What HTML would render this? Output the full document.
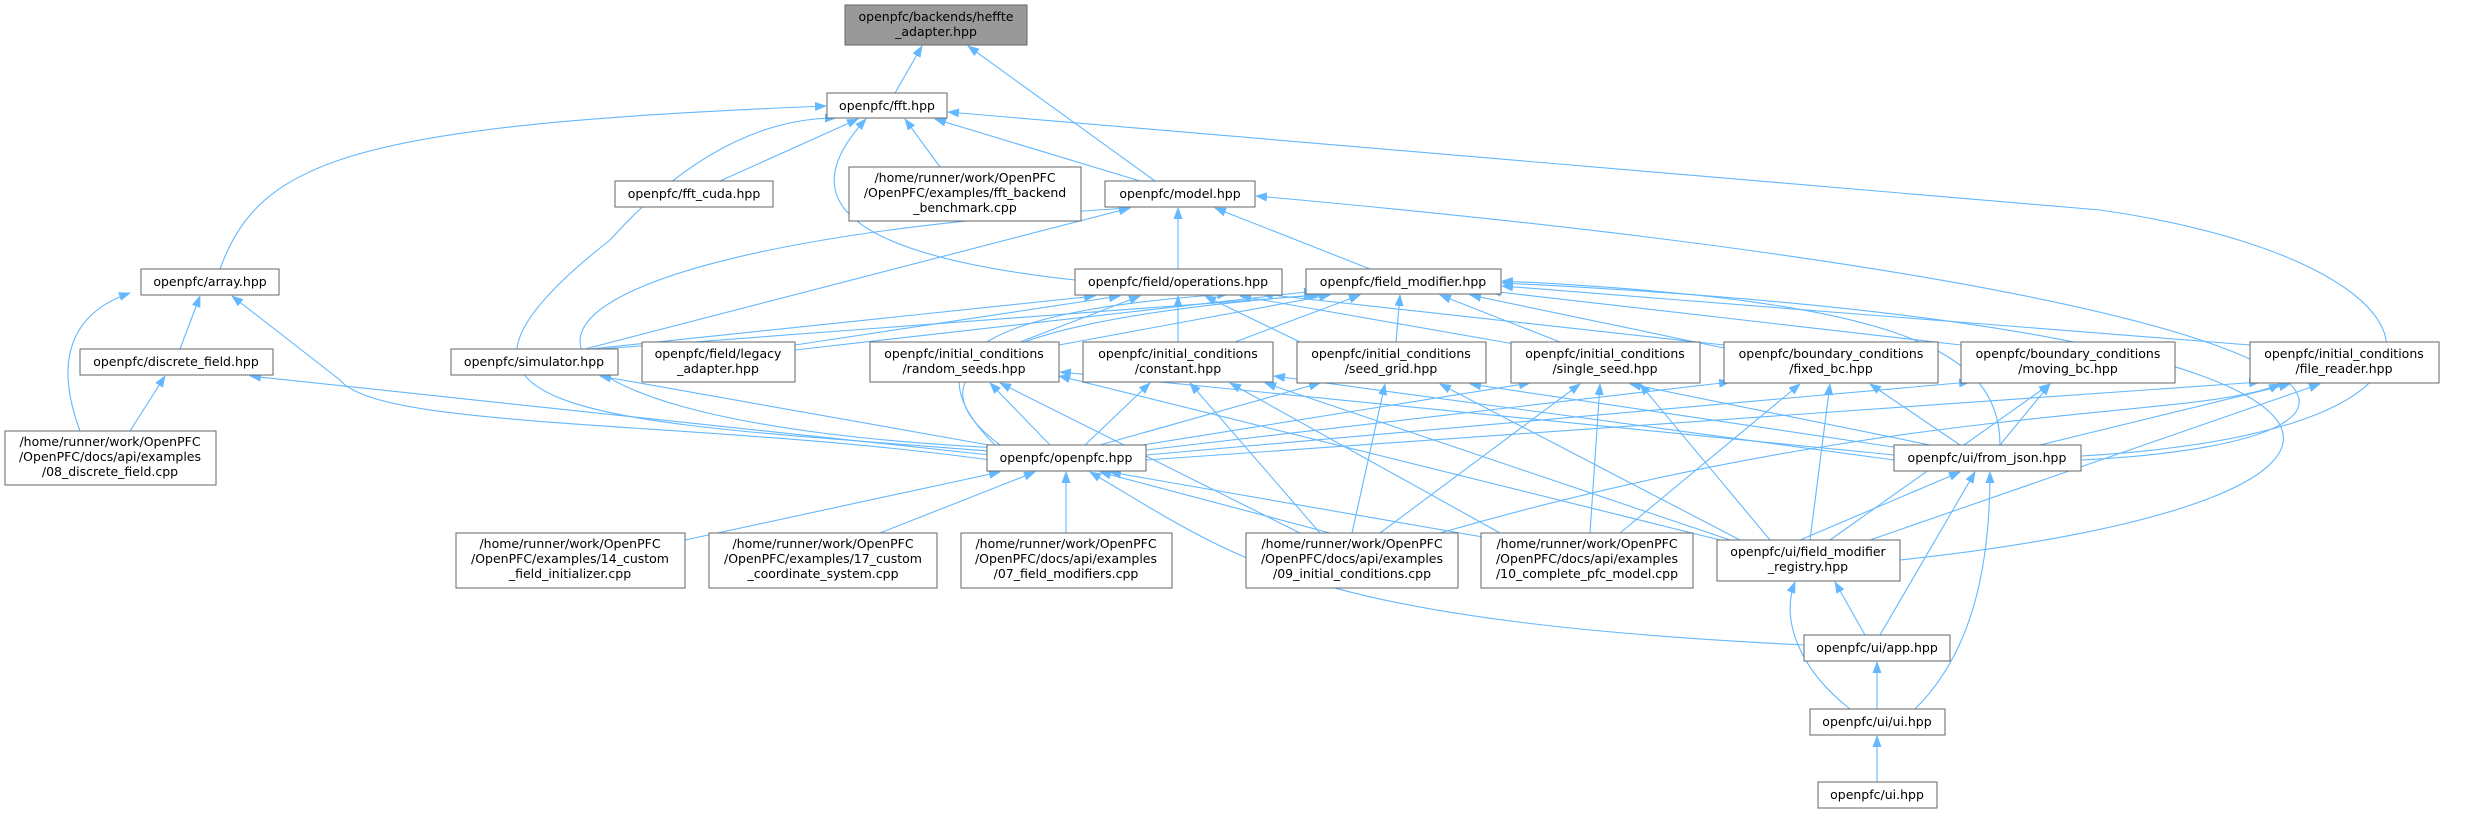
<!DOCTYPE html>
<html><head><meta charset="utf-8"><style>
html,body{margin:0;padding:0;background:#fff;}
svg{display:block;}
text{font-family:"DejaVu Sans","Liberation Sans",sans-serif;font-size:12.5px;fill:#000;}
.b{fill:#fff;stroke:#666;stroke-width:1;}
.g{fill:#999;stroke:#666;stroke-width:1;}
.e{fill:none;stroke:#63b8ff;stroke-width:1.1;marker-end:url(#a);}
</style></head><body>
<svg width="2489" height="813" viewBox="0 0 2489 813" xmlns="http://www.w3.org/2000/svg">
<defs><marker id="a" markerWidth="12" markerHeight="9" refX="11" refY="4.5" orient="auto" markerUnits="userSpaceOnUse"><path d="M0,0 L12,4.5 L0,9 z" fill="#63b8ff"/></marker></defs>
<g>
<path class="e" d="M895,93 L922,46"/>
<path class="e" d="M1155,181 L968,46"/>
<path class="e" d="M220,269 C260,160 350,125 826,106"/>
<path class="e" d="M1000,452 C600,420 380,420 610,240 C700,140 780,118 836,118"/>
<path class="e" d="M720,181 L858,119"/>
<path class="e" d="M1075,280 C800,250 810,180 866,119"/>
<path class="e" d="M940,167 L905,119"/>
<path class="e" d="M1140,181 L935,119"/>
<path class="e" d="M2081,456 C2520,430 2450,260 2100,210 L948,112"/>
<path class="e" d="M1000,448 C420,420 420,250 1130,208"/>
<path class="e" d="M585,349 L1130,208"/>
<path class="e" d="M1178,269 L1178,208"/>
<path class="e" d="M1370,269 L1215,208"/>
<path class="e" d="M2081,460 C2470,440 2420,300 1256,196"/>
<path class="e" d="M180,349 L200,296"/>
<path class="e" d="M80,431 C50,350 80,310 130,293"/>
<path class="e" d="M990,460 C700,420 380,430 340,380 L232,296"/>
<path class="e" d="M130,431 L165,376"/>
<path class="e" d="M990,455 L250,376"/>
<path class="e" d="M590,349 L1095,296"/>
<path class="e" d="M795,345 L1120,296"/>
<path class="e" d="M1020,342 L1140,296"/>
<path class="e" d="M1178,342 L1178,296"/>
<path class="e" d="M1300,342 L1205,296"/>
<path class="e" d="M1520,345 L1240,296"/>
<path class="e" d="M1724,345 L1262,294"/>
<path class="e" d="M995,445 C900,350 1000,310 1228,294"/>
<path class="e" d="M600,349 L1320,295"/>
<path class="e" d="M795,350 L1315,291"/>
<path class="e" d="M1059,345 L1330,295"/>
<path class="e" d="M1235,342 L1360,295"/>
<path class="e" d="M1396,342 L1400,295"/>
<path class="e" d="M1560,342 L1440,295"/>
<path class="e" d="M1724,348 L1470,295"/>
<path class="e" d="M1961,345 L1490,291"/>
<path class="e" d="M2250,345 L1502,286"/>
<path class="e" d="M2000,445 C2000,350 1900,300 1502,281"/>
<path class="e" d="M1900,560 C2460,500 2470,330 1502,283"/>
<path class="e" d="M1000,445 C900,370 1000,320 1315,295"/>
<path class="e" d="M1050,445 L990,383"/>
<path class="e" d="M1085,445 L1150,383"/>
<path class="e" d="M1100,445 L1320,383"/>
<path class="e" d="M1130,447 L1530,383"/>
<path class="e" d="M1146,450 L1730,382"/>
<path class="e" d="M1146,455 L1970,382"/>
<path class="e" d="M1146,460 L2260,382"/>
<path class="e" d="M1000,447 L600,376"/>
<path class="e" d="M1300,533 L1000,383"/>
<path class="e" d="M1320,533 L1190,383"/>
<path class="e" d="M1352,533 L1385,384"/>
<path class="e" d="M1380,533 L1580,384"/>
<path class="e" d="M1440,533 C1900,400 2200,420 2280,384"/>
<path class="e" d="M1500,533 L1230,383"/>
<path class="e" d="M1590,533 L1600,384"/>
<path class="e" d="M1620,533 L1800,384"/>
<path class="e" d="M1720,540 L1059,376"/>
<path class="e" d="M1730,540 L1265,383"/>
<path class="e" d="M1740,540 L1440,384"/>
<path class="e" d="M1770,540 L1640,384"/>
<path class="e" d="M1810,540 L1830,384"/>
<path class="e" d="M1830,540 L2050,384"/>
<path class="e" d="M1870,540 L2320,384"/>
<path class="e" d="M1894,455 L1060,372"/>
<path class="e" d="M1894,460 L1274,376"/>
<path class="e" d="M1900,448 L1470,384"/>
<path class="e" d="M1930,445 L1630,384"/>
<path class="e" d="M1960,445 L1870,384"/>
<path class="e" d="M2000,445 L2050,384"/>
<path class="e" d="M2040,445 L2290,384"/>
<path class="e" d="M685,540 L1000,472"/>
<path class="e" d="M880,533 L1035,472"/>
<path class="e" d="M1066,533 L1066,472"/>
<path class="e" d="M1330,533 L1100,472"/>
<path class="e" d="M1500,540 L1110,472"/>
<path class="e" d="M1804,645 C1300,620 1240,560 1090,472"/>
<path class="e" d="M1800,540 L1960,472"/>
<path class="e" d="M1880,635 L1975,472"/>
<path class="e" d="M1915,709 C1975,650 1990,560 1990,472"/>
<path class="e" d="M1865,635 L1835,582"/>
<path class="e" d="M1850,709 C1800,670 1780,620 1795,582"/>
<path class="e" d="M1877,709 L1877,662"/>
<path class="e" d="M1877,782 L1877,736"/>
</g>
<g>
<rect class="g" x="845" y="5" width="182" height="40"/><text x="936" y="21" text-anchor="middle">openpfc/backends/heffte</text><text x="936" y="36" text-anchor="middle">_adapter.hpp</text>
<rect class="b" x="827" y="93" width="120" height="25"/><text x="887" y="110" text-anchor="middle">openpfc/fft.hpp</text>
<rect class="b" x="615" y="181" width="158" height="26"/><text x="694" y="198" text-anchor="middle">openpfc/fft_cuda.hpp</text>
<rect class="b" x="849" y="167" width="232" height="54"/><text x="965" y="182" text-anchor="middle">/home/runner/work/OpenPFC</text><text x="965" y="197" text-anchor="middle">/OpenPFC/examples/fft_backend</text><text x="965" y="212" text-anchor="middle">_benchmark.cpp</text>
<rect class="b" x="1105" y="181" width="150" height="26"/><text x="1180" y="198" text-anchor="middle">openpfc/model.hpp</text>
<rect class="b" x="141" y="269" width="138" height="26"/><text x="210" y="286" text-anchor="middle">openpfc/array.hpp</text>
<rect class="b" x="1075" y="269" width="207" height="26"/><text x="1178" y="286" text-anchor="middle">openpfc/field/operations.hpp</text>
<rect class="b" x="1306" y="269" width="195" height="25"/><text x="1403" y="286" text-anchor="middle">openpfc/field_modifier.hpp</text>
<rect class="b" x="80" y="349" width="193" height="26"/><text x="176" y="366" text-anchor="middle">openpfc/discrete_field.hpp</text>
<rect class="b" x="451" y="349" width="167" height="26"/><text x="534" y="366" text-anchor="middle">openpfc/simulator.hpp</text>
<rect class="b" x="642" y="342" width="153" height="40"/><text x="718" y="358" text-anchor="middle">openpfc/field/legacy</text><text x="718" y="373" text-anchor="middle">_adapter.hpp</text>
<rect class="b" x="870" y="342" width="189" height="40"/><text x="964" y="358" text-anchor="middle">openpfc/initial_conditions</text><text x="964" y="373" text-anchor="middle">/random_seeds.hpp</text>
<rect class="b" x="1083" y="342" width="190" height="40"/><text x="1178" y="358" text-anchor="middle">openpfc/initial_conditions</text><text x="1178" y="373" text-anchor="middle">/constant.hpp</text>
<rect class="b" x="1297" y="342" width="189" height="41"/><text x="1391" y="358" text-anchor="middle">openpfc/initial_conditions</text><text x="1391" y="373" text-anchor="middle">/seed_grid.hpp</text>
<rect class="b" x="1511" y="342" width="189" height="41"/><text x="1605" y="358" text-anchor="middle">openpfc/initial_conditions</text><text x="1605" y="373" text-anchor="middle">/single_seed.hpp</text>
<rect class="b" x="1724" y="342" width="214" height="41"/><text x="1831" y="358" text-anchor="middle">openpfc/boundary_conditions</text><text x="1831" y="373" text-anchor="middle">/fixed_bc.hpp</text>
<rect class="b" x="1961" y="342" width="214" height="41"/><text x="2068" y="358" text-anchor="middle">openpfc/boundary_conditions</text><text x="2068" y="373" text-anchor="middle">/moving_bc.hpp</text>
<rect class="b" x="2250" y="342" width="189" height="41"/><text x="2344" y="358" text-anchor="middle">openpfc/initial_conditions</text><text x="2344" y="373" text-anchor="middle">/file_reader.hpp</text>
<rect class="b" x="5" y="431" width="211" height="54"/><text x="110" y="446" text-anchor="middle">/home/runner/work/OpenPFC</text><text x="110" y="461" text-anchor="middle">/OpenPFC/docs/api/examples</text><text x="110" y="476" text-anchor="middle">/08_discrete_field.cpp</text>
<rect class="b" x="987" y="445" width="159" height="26"/><text x="1066" y="462" text-anchor="middle">openpfc/openpfc.hpp</text>
<rect class="b" x="1894" y="445" width="187" height="26"/><text x="1987" y="462" text-anchor="middle">openpfc/ui/from_json.hpp</text>
<rect class="b" x="456" y="533" width="229" height="55"/><text x="570" y="548" text-anchor="middle">/home/runner/work/OpenPFC</text><text x="570" y="563" text-anchor="middle">/OpenPFC/examples/14_custom</text><text x="570" y="578" text-anchor="middle">_field_initializer.cpp</text>
<rect class="b" x="709" y="533" width="228" height="55"/><text x="823" y="548" text-anchor="middle">/home/runner/work/OpenPFC</text><text x="823" y="563" text-anchor="middle">/OpenPFC/examples/17_custom</text><text x="823" y="578" text-anchor="middle">_coordinate_system.cpp</text>
<rect class="b" x="961" y="533" width="211" height="55"/><text x="1066" y="548" text-anchor="middle">/home/runner/work/OpenPFC</text><text x="1066" y="563" text-anchor="middle">/OpenPFC/docs/api/examples</text><text x="1066" y="578" text-anchor="middle">/07_field_modifiers.cpp</text>
<rect class="b" x="1246" y="533" width="212" height="55"/><text x="1352" y="548" text-anchor="middle">/home/runner/work/OpenPFC</text><text x="1352" y="563" text-anchor="middle">/OpenPFC/docs/api/examples</text><text x="1352" y="578" text-anchor="middle">/09_initial_conditions.cpp</text>
<rect class="b" x="1481" y="533" width="212" height="55"/><text x="1587" y="548" text-anchor="middle">/home/runner/work/OpenPFC</text><text x="1587" y="563" text-anchor="middle">/OpenPFC/docs/api/examples</text><text x="1587" y="578" text-anchor="middle">/10_complete_pfc_model.cpp</text>
<rect class="b" x="1717" y="540" width="183" height="41"/><text x="1808" y="556" text-anchor="middle">openpfc/ui/field_modifier</text><text x="1808" y="571" text-anchor="middle">_registry.hpp</text>
<rect class="b" x="1804" y="635" width="146" height="26"/><text x="1877" y="652" text-anchor="middle">openpfc/ui/app.hpp</text>
<rect class="b" x="1810" y="709" width="135" height="26"/><text x="1877" y="726" text-anchor="middle">openpfc/ui/ui.hpp</text>
<rect class="b" x="1818" y="782" width="119" height="26"/><text x="1877" y="799" text-anchor="middle">openpfc/ui.hpp</text>
</g>
</svg>
</body></html>
